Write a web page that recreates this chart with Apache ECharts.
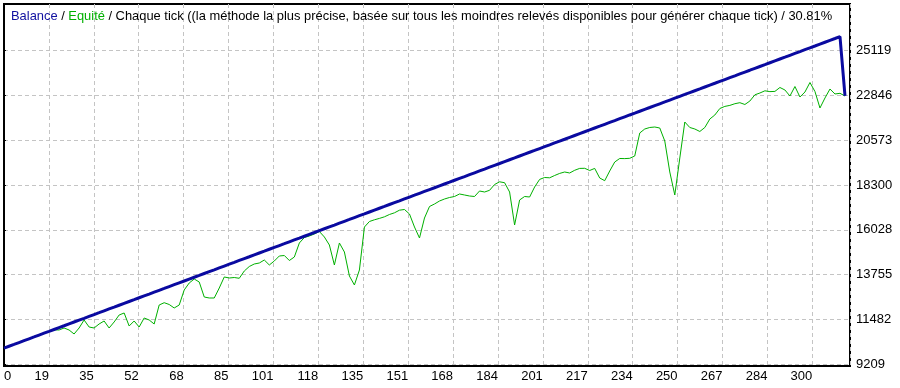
<!DOCTYPE html>
<html><head><meta charset="utf-8">
<script src="https://cdn.jsdelivr.net/npm/echarts@6/dist/echarts.min.js"></script>
<style>html,body{margin:0;padding:0;background:#fff}#c{width:900px;height:388px}</style>
</head><body><div id="c"></div>
<script>
const titleText = 'Chaque tick ((la méthode la plus précise, basée sur tous les moindres relevés disponibles pour générer chaque tick) / 30.81%';
const xTickLabels = ['0','19','35','52','68','85','101','118','135','151','168','184','201','217','234','250','267','284','300'];
const yTickValues = [9209, 11482, 13755, 16028, 18300, 20573, 22846, 25119];
const balance = [10020,10115,10209,10304,10399,10494,10588,10683,10778,10872,10967,11062,11156,11251,11346,11441,11535,11630,11725,11819,
11914,12009,12103,12198,12293,12388,12482,12577,12672,12766,12861,12956,13050,13145,13240,13335,13429,13524,13619,13713,
13808,13903,13997,14092,14187,14282,14376,14471,14566,14660,14755,14850,14944,15039,15134,15229,15323,15418,15513,15607,
15702,15797,15891,15986,16081,16176,16270,16365,16460,16554,16649,16744,16838,16933,17028,17123,17217,17312,17407,17501,
17596,17691,17785,17880,17975,18070,18164,18259,18354,18448,18543,18638,18732,18827,18922,19017,19111,19206,19301,19395,
19490,19585,19679,19774,19869,19964,20058,20153,20248,20342,20437,20532,20626,20721,20816,20911,21005,21100,21195,21289,
21384,21479,21573,21668,21763,21858,21952,22047,22142,22236,22331,22426,22520,22615,22710,22805,22899,22994,23089,23183,
23278,23373,23467,23562,23657,23752,23846,23941,24036,24130,24225,24320,24414,24509,24604,24699,24793,24888,24983,25077,
25172,25267,25361,25456,25551,25646,25740,25835,22830,null];
const equity = [10020,10115,10209,10304,10399,10494,10588,10683,10778,10872,10950,10941,11042,10941,10738,11042,11449,11093,11042,11246,
11398,11042,11347,11702,11804,11144,11398,11093,11550,11449,11246,12210,12327,12236,12058,12210,12972,13327,13530,13378,
12616,12566,12566,13073,13632,13581,13606,13566,13936,14165,14292,14342,14495,14241,14444,14698,14723,14469,14647,15358,
15637,15713,15815,15942,15663,15256,14241,15358,14901,13682,13226,13987,16170,16449,16536,16607,16688,16805,16891,17023,
17059,16830,16170,15612,16627,17211,17338,17490,17592,17668,17719,17846,17795,17744,17719,17998,17947,18033,18328,18465,
18419,17947,16272,17541,17719,17693,18201,18587,18683,18668,18785,18891,18963,18912,19049,19145,19150,19039,19145,18658,
18521,19013,19470,19648,19643,19658,19775,20943,21146,21222,21247,21196,20536,18963,17795,19673,21501,21222,21146,21019,
21222,21653,21856,22187,22293,22344,22430,22481,22390,22567,22882,22973,23085,23044,23055,23253,23126,22821,23303,22770,
23024,23506,23049,22212,22720,23176,22923,22958,22821,null];
const categories = balance.map((_, i) => String(i));

const FONT = 'Liberation Sans';
const chart = echarts.init(document.getElementById('c'), null, {renderer: 'canvas'});
const dash = {color: '#c4c4c4', width: 1, type: [4, 3]};
chart.setOption({
  animation: false,
  backgroundColor: '#ffffff',
  title: {
    left: 11, top: 9, padding: 0,
    text: '{b|Balance} / {g|Equité} / ' + titleText,
    textStyle: {fontFamily: FONT, fontSize: 12.9, fontWeight: 'normal', color: '#000', lineHeight: 14,
      rich: {b: {color: '#1010a0', fontFamily: FONT, fontSize: 12.9}, g: {color: '#00b000', fontFamily: FONT, fontSize: 12.9}}}
  },
  grid: {left: 4, right: 50, top: 4, bottom: 22, show: true, borderColor: '#000', borderWidth: 2, backgroundColor: 'transparent'},
  xAxis: [
    {type: 'category', data: categories, boundaryGap: false, show: false},
    {type: 'value', min: 0, max: 18.84, interval: 1, position: 'bottom',
      axisLine: {show: true, lineStyle: {color: '#000', width: 2}},
      axisTick: {show: false},
      splitLine: {show: true, lineStyle: dash},
      axisLabel: {showMaxLabel: false, alignMinLabel: 'left', align: 'right', margin: 4,
        fontFamily: FONT, fontSize: 13, color: '#000',
        formatter: v => { const k = Math.round(v); return (Math.abs(v - k) < 1e-6 && k < xTickLabels.length) ? xTickLabels[k] : ''; }}
    }
  ],
  yAxis: {
    type: 'value', position: 'right', min: 9113, max: 27492, scale: true,
    axisLine: {show: true, lineStyle: {color: '#000', width: 1}},
    axisTick: {show: true, length: 2, customValues: yTickValues, lineStyle: {color: '#000'}},
    splitLine: {show: true, lineStyle: dash},
    axisLabel: {customValues: yTickValues, margin: 6, fontFamily: FONT, fontSize: 13, color: '#000',
      formatter: v => String(v)}
  },
  series: [
    {type: 'line', name: 'Equité', xAxisIndex: 0, data: equity, showSymbol: false, symbol: 'none',
      lineStyle: {color: '#00b000', width: 1}, z: 2},
    {type: 'line', name: 'Balance', xAxisIndex: 0, data: balance, showSymbol: false, symbol: 'none',
      lineStyle: {color: '#0a0aa0', width: 3}, z: 3}
  ]
});
</script></body></html>
